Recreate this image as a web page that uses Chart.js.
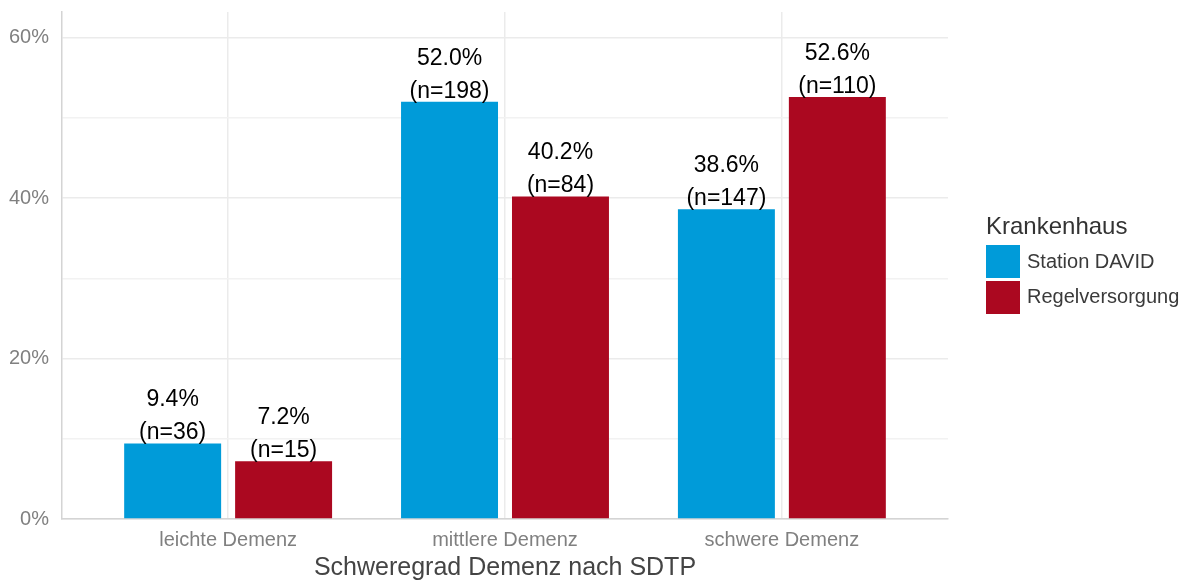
<!DOCTYPE html>
<html>
<head>
<meta charset="utf-8">
<script src="https://cdn.jsdelivr.net/npm/chart.js@4/dist/chart.umd.min.js"></script>
<style>
  html, body { margin: 0; padding: 0; background: #ffffff; }
  #wrap { width: 1188px; height: 581px; position: relative; }
  canvas { display: block; }
</style>
</head>
<body>
<div id="wrap"><canvas id="c" width="1188" height="581"></canvas></div>
<script>
const categories = ['leichte Demenz', 'mittlere Demenz', 'schwere Demenz'];
const seriesNames = ['Station DAVID', 'Regelversorgung'];
const stationDavid = [9.4, 52.0, 38.6];
const regelversorgung = [7.2, 40.2, 52.6];
const nStationDavid = [36, 198, 147];
const nRegelversorgung = [15, 84, 110];
const yTickLabels = [0, 20, 40, 60];
const yMinorTicks = [10, 30, 50];
const xTitle = 'Schweregrad Demenz nach SDTP';
const legendTitle = 'Krankenhaus';

const FONT = '"Liberation Sans", Arial, Helvetica, sans-serif';
const COLORS = ['#009BD9', '#AB0820'];

const barLabels = {
  id: 'barLabels',
  afterDatasetsDraw(chart) {
    const ctx = chart.ctx;
    ctx.save();
    ctx.font = '23px ' + FONT;
    ctx.fillStyle = '#000000';
    ctx.textAlign = 'center';
    ctx.textBaseline = 'middle';
    chart.data.datasets.forEach((ds, di) => {
      const meta = chart.getDatasetMeta(di);
      meta.data.forEach((bar, i) => {
        const v = ds.data[i].y;
        ctx.fillText(v.toFixed(1) + '%', bar.x, bar.y - 43.5);
        ctx.fillText('(n=' + ds.counts[i] + ')', bar.x, bar.y - 10.5);
      });
    });
    ctx.restore();
  }
};

const customLegend = {
  id: 'customLegend',
  afterDraw(chart) {
    const ctx = chart.ctx;
    const x0 = chart.chartArea.right + 38;
    ctx.save();
    ctx.textAlign = 'left';
    ctx.textBaseline = 'middle';
    ctx.fillStyle = '#333333';
    ctx.font = '24px ' + FONT;
    ctx.fillText(legendTitle, x0, 227);
    chart.data.datasets.forEach((ds, i) => {
      ctx.fillStyle = ds.backgroundColor;
      ctx.fillRect(x0, 245 + i * 36, 34, 33);
      ctx.fillStyle = '#3a3a3a';
      ctx.font = '20px ' + FONT;
      ctx.fillText(ds.label, x0 + 41, 262.5 + i * 35);
    });
    ctx.restore();
  }
};

const datasets = [
  { label: seriesNames[0], data: stationDavid.map((v, i) => ({ x: i + 1, y: v })), counts: nStationDavid, backgroundColor: COLORS[0] },
  { label: seriesNames[1], data: regelversorgung.map((v, i) => ({ x: i + 1, y: v })), counts: nRegelversorgung, backgroundColor: COLORS[1] }
];

new Chart(document.getElementById('c'), {
  type: 'bar',
  data: { datasets },
  options: {
    responsive: false,
    animation: false,
    devicePixelRatio: 1,
    layout: { padding: { left: 0, right: 240, top: 12, bottom: 0 } },
    datasets: {
      bar: { categoryPercentage: 0.8014, barPercentage: 0.874, borderWidth: 0 }
    },
    plugins: {
      legend: { display: false },
      tooltip: { enabled: false }
    },
    scales: {
      x: {
        type: 'linear',
        min: 0.4,
        max: 3.6,
        offset: false,
        afterBuildTicks(s) { s.ticks = categories.map((c, i) => ({ value: i + 1 })); },
        afterFit(s) { s.height = 62; s.paddingLeft = 0; s.paddingRight = 0; s.paddingTop = 0; s.paddingBottom = 0; },
        ticks: {
          autoSkip: false,
          maxRotation: 0,
          padding: 9,
          color: '#808080',
          font: { family: FONT, size: 20 },
          callback: (v) => categories[Math.round(v) - 1] ?? ''
        },
        grid: { offset: false, drawTicks: false, color: '#EBEBEB', lineWidth: 1.5 },
        border: { display: true, color: '#D4D4D4', width: 1.5 },
        title: {
          display: true,
          text: xTitle,
          color: '#444444',
          font: { family: FONT, size: 25, lineHeight: 1 },
          padding: { top: 0, bottom: 0 }
        }
      },
      y: {
        type: 'linear',
        min: 0,
        max: 63.2,
        afterBuildTicks(s) {
          s.ticks = [...yTickLabels, ...yMinorTicks].sort((a, b) => a - b).map(v => ({ value: v }));
        },
        afterFit(s) { s.width = 62; s.paddingLeft = 0; s.paddingRight = 0; s.paddingTop = 0; s.paddingBottom = 0; },
        ticks: {
          padding: 13,
          color: '#808080',
          font: { family: FONT, size: 20 },
          callback: (v) => yTickLabels.includes(v) ? v + '%' : ''
        },
        grid: {
          drawTicks: false,
          lineWidth: 1.5,
          color: (ctx) => (ctx.tick && yTickLabels.includes(ctx.tick.value)) ? '#EBEBEB' : '#F2F2F2'
        },
        border: { display: true, color: '#D4D4D4', width: 1.5 }
      }
    }
  },
  plugins: [barLabels, customLegend]
});
</script>
</body>
</html>
